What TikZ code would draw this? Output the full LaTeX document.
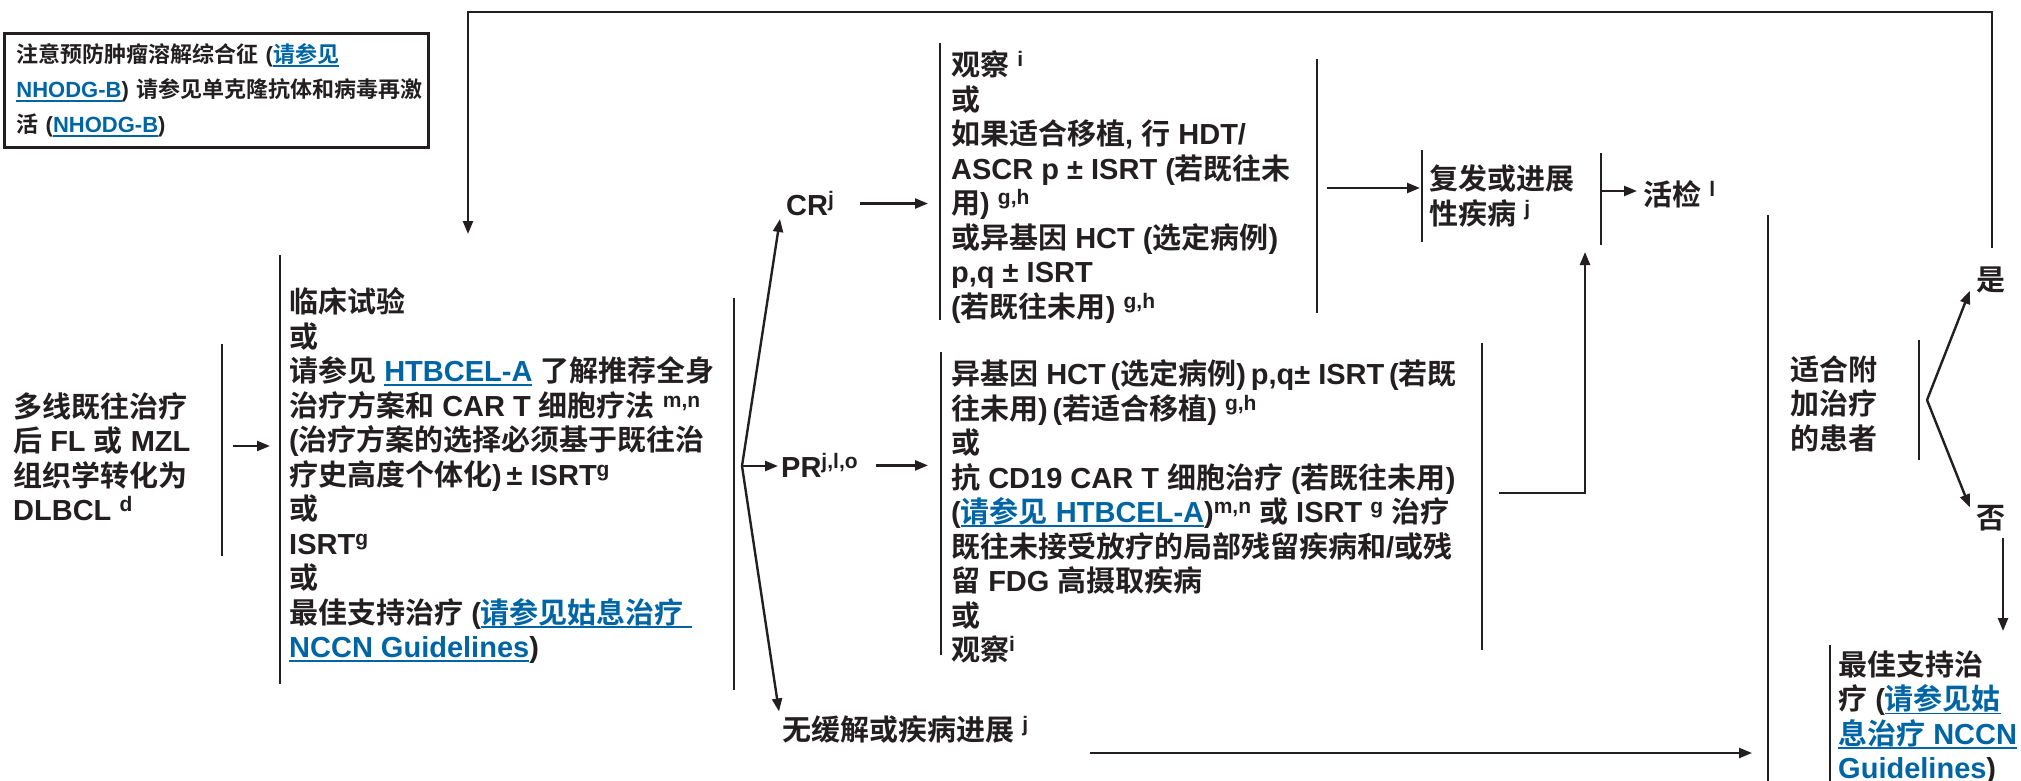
\documentclass[tikz,border=0pt]{standalone}
\usepackage{fontspec}
\setmainfont{Liberation Sans}
\newfontfamily\cjkf{Noto Sans CJK SC}[BoldFont={Noto Sans CJK SC Bold}]
\usetikzlibrary{arrows.meta}
\definecolor{ink}{RGB}{35,31,32}
\definecolor{linkblue}{RGB}{0,101,164}
% automatic switch to the CJK font for CJK characters
\XeTeXinterchartokenstate=1
\newXeTeXintercharclass\cjkcls
\newcount\cjkc
\cjkc="4E00
\loop \XeTeXcharclass\cjkc=\cjkcls \ifnum\cjkc<"9FFF \advance\cjkc by 1 \repeat
\cjkc="3000
\loop \XeTeXcharclass\cjkc=\cjkcls \ifnum\cjkc<"303F \advance\cjkc by 1 \repeat
\cjkc="FF00
\loop \XeTeXcharclass\cjkc=\cjkcls \ifnum\cjkc<"FFEF \advance\cjkc by 1 \repeat
\XeTeXinterchartoks 0 \cjkcls = {\cjkf}
\XeTeXinterchartoks 4095 \cjkcls = {\cjkf}
\XeTeXinterchartoks \cjkcls 0 = {\rmfamily}
\XeTeXinterchartoks \cjkcls 4095 = {\rmfamily}
\newcommand\mainsz{\fontsize{29}{34.5}\selectfont\bfseries}
\newcommand\notesz{\fontsize{22}{35}\selectfont\bfseries}
\newcommand\sups[1]{\raisebox{9pt}{\fontsize{21}{21}\selectfont #1}}
\newcommand\lnk[1]{\textcolor{linkblue}{\setbox0=\hbox{#1}\rlap{\rule[-4.5pt]{\wd0}{1.8pt}}\box0}}
\tikzset{
  bar/.style={line width=2.4pt, draw=ink},
  arr/.style={line width=2.4pt, draw=ink, -{Triangle[length=13pt,width=10pt]}},
  blk/.style={anchor=north west, inner sep=0pt, align=left, font=\mainsz, text=ink},
  lbl/.style={anchor=base west, inner sep=0pt, font=\mainsz, text=ink},
  single/.style={anchor=center, inner sep=0pt, font=\mainsz, text=ink},
  notebox/.style={draw=ink, line width=2.8pt, anchor=north west, inner xsep=12pt,
    inner ysep=8pt, text width=400pt, minimum height=114pt, align=left,
    font=\notesz, text=ink}
}
\begin{document}
\begin{tikzpicture}[x=1pt,y=-1pt]
\useasboundingbox (0,0) rectangle (2021,781);

% note box
\node[notebox] (note) at (3,32) {\mbox{注意预防肿瘤溶解综合征 (\lnk{请参见}}\\\mbox{\lnk{NHODG-B}) 请参见单克隆抗体和病毒再激}\\\mbox{活 (\lnk{NHODG-B})}};

% source
\node[blk] (src) at (13,392.5) {多线既往治疗\\后 FL 或 MZL\\组织学转化为\\DLBCL \sups{d}};
\coordinate (srcT) at (222,344);
\coordinate (srcB) at (222,556);
\draw[bar] (srcT) -- (srcB);
\coordinate (a1s) at (233,446);
\coordinate (a1e) at (270,446);
\draw[arr] (a1s) -- (a1e);

% middle block
\coordinate (midT) at (280,255);
\coordinate (midB) at (280,684);
\draw[bar] (midT) -- (midB);
\node[blk] (mid) at (289,287.5) {临床试验\\或\\请参见 \lnk{HTBCEL-A} 了解推荐全身\\治疗方案和 CAR T 细胞疗法 \sups{m,n}\\(治疗方案的选择必须基于既往治\\疗史高度个体化)\,± ISRT\sups{g}\\或\\ISRT\sups{g}\\或\\最佳支持治疗 (\lnk{请参见姑息治疗 }\\\lnk{NCCN Guidelines})};
\coordinate (midRT) at (734,298);
\coordinate (midRB) at (734,690);
\draw[bar] (midRT) -- (midRB);
\coordinate (apex) at (742,466);

% responses
\node[lbl] (cr) at (786,215.5) {CR\sups{j}};
\node[lbl] (pr) at (781,477.5) {PR\sups{j,l,o}};
\node[lbl] (nr) at (782,740.5) {无缓解或疾病进展 \sups{j}};
\coordinate (prin) at ([xshift=-3pt]pr.west);
\draw[arr] (apex) -- ([xshift=-6pt,yshift=-3pt]cr.south west);
\draw[arr] (apex) -- (apex -| prin);
\draw[arr] (apex) -- ([xshift=-3pt,yshift=4pt]nr.north west);

% CR block
\coordinate (crin) at (928,205);
\draw[arr] ([xshift=26pt]cr.east) -- (crin |- cr.east);
\coordinate (crbT) at (940,43);
\coordinate (crbB) at (940,320);
\draw[bar] (crbT) -- (crbB);
\node[blk] (crb) at (951,50.5) {观察 \sups{i}\\或\\如果适合移植, 行 HDT/\\ASCR p ± ISRT (若既往未\\用) \sups{g,h}\\或异基因 HCT (选定病例)\\p,q ± ISRT\\(若既往未用) \sups{g,h}};
\coordinate (crRT) at (1317,59);
\coordinate (crRB) at (1317,313);
\draw[bar] (crRT) -- (crRB);
\coordinate (rel1) at (1327,188);
\coordinate (rel2) at (1420,188);
\draw[arr] (rel1) -- (rel2);

% relapse
\coordinate (relT) at (1422,150);
\coordinate (relB) at (1422,242);
\draw[bar] (relT) -- (relB);
\node[blk] (rel) at (1429,164.5) {复发或进展\\性疾病 \sups{j}};
\coordinate (rel2T) at (1601,153);
\coordinate (rel2B) at (1601,245);
\draw[bar] (rel2T) -- (rel2B);
\node[lbl] (bx) at (1643,205.5) {活检 \sups{l}};
\coordinate (bxs) at (1601,191);
\coordinate (bxin) at ([xshift=-6pt]bx.west);
\draw[arr] (bxs) -- (bxs -| bxin);

% PR block
\coordinate (prin2) at (928,470);
\draw[arr] ([xshift=18pt]pr.east) -- (prin2 |- pr.east);
\coordinate (prbT) at (941,352);
\coordinate (prbB) at (941,655);
\draw[bar] (prbT) -- (prbB);
\node[blk] (prb) at (951,359.5) {异基因 HCT\,(选定病例)\,p,q± ISRT\,(若既\\往未用)\,(若适合移植) \sups{g,h}\\或\\抗 CD19 CAR T 细胞治疗 (若既往未用)\\(\lnk{请参见 HTBCEL-A})\sups{m,n} 或 ISRT \sups{g} 治疗\\既往未接受放疗的局部残留疾病和/或残\\留 FDG 高摄取疾病\\或\\观察\sups{i}};
\coordinate (prRT) at (1482,343);
\coordinate (prRB) at (1482,650);
\draw[bar] (prRT) -- (prRB);
\coordinate (up1) at (1499,493);
\coordinate (up2) at (1585,252);
\draw[arr] (up1) -| (up2);

% no response
\coordinate (nrout) at (1090,753);
\coordinate (bigin) at (1752,753);
\draw[arr] (nrout) -- (bigin);
\coordinate (bigT) at (1768,215);
\coordinate (bigB) at (1768,781);
\draw[bar] (bigT) -- (bigB);

% candidate for further therapy
\node[blk] (fit) at (1790,355.5) {适合附\\加治疗\\的患者};
\coordinate (fitT) at (1919,340);
\coordinate (fitB) at (1919,460);
\draw[bar] (fitT) -- (fitB);
\coordinate (apx2) at (1927,400);
\node[single] (shi) at (1991,280) {是};
\node[single] (fou) at (1991,518) {否};
\draw[arr] (apx2) -- ([xshift=-6.5pt,yshift=2.5pt]shi.south west);
\draw[arr] (apx2) -- ([xshift=-6.5pt,yshift=-2.5pt]fou.north west);
\coordinate (fbL) at (468,12);
\coordinate (midin) at (468,234);
\draw[arr] ([xshift=1pt,yshift=19pt]shi.north) |- (fbL) -- (midin);
\coordinate (bsin) at (2003,631);
\draw[arr] ([xshift=12pt,yshift=-6.5pt]fou.south) -- (bsin);

% best supportive care
\coordinate (bscT) at (1830,645);
\coordinate (bscB) at (1830,781);
\draw[bar] (bscT) -- (bscB);
\node[blk] (bsc) at (1838,650.5) {最佳支持治\\疗 (\lnk{请参见姑}\\\lnk{息治疗 NCCN}\\\lnk{Guidelines})};
\end{tikzpicture}
\end{document}
